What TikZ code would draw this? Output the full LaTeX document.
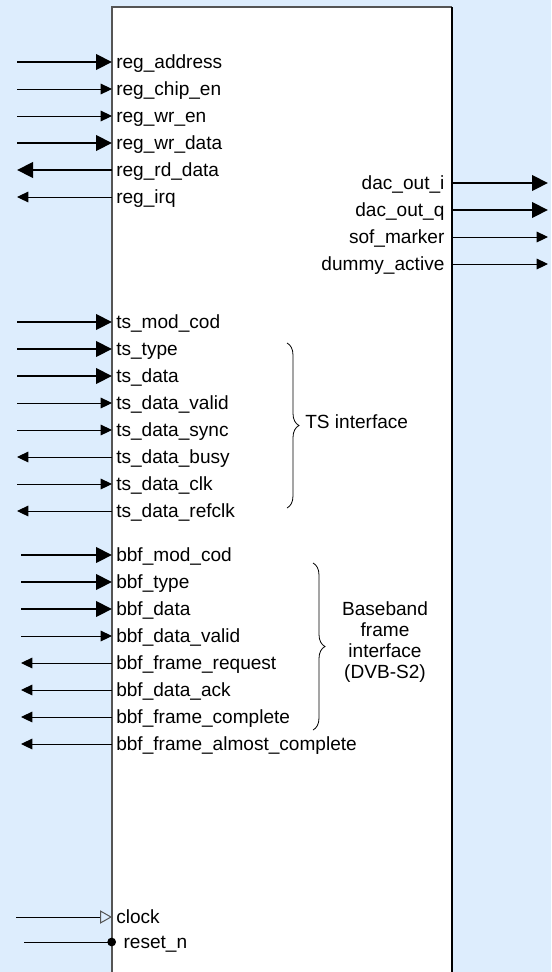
\documentclass[tikz,border=0pt]{standalone}
\usepackage{fontspec}
\setmainfont{Liberation Sans}
\usepackage{tikz}
\usetikzlibrary{arrows.meta, positioning, decorations.pathreplacing}
\definecolor{bgblue}{RGB}{221,237,253}
\definecolor{edgegray}{RGB}{85,85,85}
\newcommand{\portfont}{\fontsize{14.3}{15.75}\selectfont}
\tikzstyle{pin} = [coordinate]
\tikzstyle{bus} = [line width=2.2pt, -{Triangle[length=12pt,width=11.5pt]}]
\tikzstyle{wire} = [line width=0.75pt, -{Triangle[length=8.5pt,width=8pt]}]
\tikzstyle{clkwire} = [line width=0.75pt, -{Triangle[open,length=9pt,width=10pt,color=edgegray]}]
\tikzstyle{rstwire} = [line width=0.75pt, -{Circle[length=6.5pt]}]
\tikzstyle{curly} = [decorate, decoration={brace, amplitude=9pt}, line width=0.6pt]

\begin{document}
\begin{tikzpicture}[x=0.75pt, y=-0.75pt, node distance=20.25pt, font=\portfont,
    every label/.style={font=\portfont, inner sep=0pt, text height=11pt, text depth=1.2pt},
    label distance=3pt]
\useasboundingbox (0,0) rectangle (551,972);
\fill [bgblue] (0,0) rectangle (551,972);
% block body
\fill [white] (112,7) rectangle (452,972);
\draw [edgegray, line width=1.3pt] (112,972) |- (452,7);
\draw [black, line width=1.5pt] (452,7) -- (452,972);

% register interface
\node (regaddr) [pin, label=right:{reg\_address}] at (112,62) {};
\node (chipen) [pin, label=right:{reg\_chip\_en}, below of=regaddr] {};
\node (wren) [pin, label=right:{reg\_wr\_en}, below of=chipen] {};
\node (wrdata) [pin, label=right:{reg\_wr\_data}, below of=wren] {};
\node (rddata) [pin, label=right:{reg\_rd\_data}, below of=wrdata] {};
\node (irq) [pin, label=right:{reg\_irq}, below of=rddata] {};
\coordinate [left=71.25pt of regaddr] (regaddr-l);
\coordinate [left=71.25pt of chipen] (chipen-l);
\coordinate [left=71.25pt of wren] (wren-l);
\coordinate [left=71.25pt of wrdata] (wrdata-l);
\coordinate [left=71.25pt of rddata] (rddata-l);
\coordinate [left=71.25pt of irq] (irq-l);
\draw [bus] (regaddr-l) -- (regaddr);
\draw [wire] (chipen-l) -- (chipen);
\draw [wire] (wren-l) -- (wren);
\draw [bus] (wrdata-l) -- (wrdata);
\draw [bus] (rddata) -- (rddata-l);
\draw [wire] (irq) -- (irq-l);

% outputs
\node (daci) [pin, label={[label distance=5.5pt]left:{dac\_out\_i}}] at (452,183) {};
\node (dacq) [pin, label={[label distance=5.5pt]left:{dac\_out\_q}}, below of=daci] {};
\node (sof) [pin, label={[label distance=5.5pt]left:{sof\_marker}}, below of=dacq] {};
\node (dummy) [pin, label={[label distance=5.5pt]left:{dummy\_active}}, below of=sof] {};
\coordinate [right=72pt of daci] (daci-r);
\coordinate [right=72pt of dacq] (dacq-r);
\coordinate [right=72pt of sof] (sof-r);
\coordinate [right=72pt of dummy] (dummy-r);
\draw [bus] (daci) -- (daci-r);
\draw [bus] (dacq) -- (dacq-r);
\draw [wire] (sof) -- (sof-r);
\draw [wire] (dummy) -- (dummy-r);

% TS interface
\node (tsmod) [pin, label=right:{ts\_mod\_cod}] at (112,322) {};
\node (tstype) [pin, label=right:{ts\_type}, below of=tsmod] {};
\node (tsdata) [pin, label=right:{ts\_data}, below of=tstype] {};
\node (tsvalid) [pin, label=right:{ts\_data\_valid}, below of=tsdata] {};
\node (tssync) [pin, label=right:{ts\_data\_sync}, below of=tsvalid] {};
\node (tsbusy) [pin, label=right:{ts\_data\_busy}, below of=tssync] {};
\node (tsclk) [pin, label=right:{ts\_data\_clk}, below of=tsbusy] {};
\node (tsref) [pin, label=right:{ts\_data\_refclk}, below of=tsclk] {};
\coordinate [left=71.25pt of tsmod] (tsmod-l);
\coordinate [left=71.25pt of tstype] (tstype-l);
\coordinate [left=71.25pt of tsdata] (tsdata-l);
\coordinate [left=71.25pt of tsvalid] (tsvalid-l);
\coordinate [left=71.25pt of tssync] (tssync-l);
\coordinate [left=71.25pt of tsbusy] (tsbusy-l);
\coordinate [left=71.25pt of tsclk] (tsclk-l);
\coordinate [left=71.25pt of tsref] (tsref-l);
\draw [bus] (tsmod-l) -- (tsmod);
\draw [bus] (tstype-l) -- (tstype);
\draw [bus] (tsdata-l) -- (tsdata);
\draw [wire] (tsvalid-l) -- (tsvalid);
\draw [wire] (tssync-l) -- (tssync);
\draw [wire] (tsbusy) -- (tsbusy-l);
\draw [wire] (tsclk-l) -- (tsclk);
\draw [wire] (tsref) -- (tsref-l);
\coordinate (tstop) at (287,343);
\coordinate (tsbot) at (287,508);
\draw [curly] (tstop) -- (tsbot);
\node (tsif) [anchor=west, inner sep=0pt] at (305,422) {TS interface};

% baseband frame interface
\node (bbfmod) [pin, label=right:{bbf\_mod\_cod}] at (112,555) {};
\node (bbftype) [pin, label=right:{bbf\_type}, below of=bbfmod] {};
\node (bbfdata) [pin, label=right:{bbf\_data}, below of=bbftype] {};
\node (bbfvalid) [pin, label=right:{bbf\_data\_valid}, below of=bbfdata] {};
\node (bbfreq) [pin, label=right:{bbf\_frame\_request}, below of=bbfvalid] {};
\node (bbfack) [pin, label=right:{bbf\_data\_ack}, below of=bbfreq] {};
\node (bbfcompl) [pin, label=right:{bbf\_frame\_complete}, below of=bbfack] {};
\node (bbfalmost) [pin, label=right:{bbf\_frame\_almost\_complete}, below of=bbfcompl] {};
\coordinate [left=68.25pt of bbfmod] (bbfmod-l);
\coordinate [left=68.25pt of bbftype] (bbftype-l);
\coordinate [left=68.25pt of bbfdata] (bbfdata-l);
\coordinate [left=68.25pt of bbfvalid] (bbfvalid-l);
\coordinate [left=68.25pt of bbfreq] (bbfreq-l);
\coordinate [left=68.25pt of bbfack] (bbfack-l);
\coordinate [left=68.25pt of bbfcompl] (bbfcompl-l);
\coordinate [left=68.25pt of bbfalmost] (bbfalmost-l);
\draw [bus] (bbfmod-l) -- (bbfmod);
\draw [bus] (bbftype-l) -- (bbftype);
\draw [bus] (bbfdata-l) -- (bbfdata);
\draw [wire] (bbfvalid-l) -- (bbfvalid);
\draw [wire] (bbfreq) -- (bbfreq-l);
\draw [wire] (bbfack) -- (bbfack-l);
\draw [wire] (bbfcompl) -- (bbfcompl-l);
\draw [wire] (bbfalmost) -- (bbfalmost-l);
\coordinate (bbftop) at (313,563);
\coordinate (bbfbot) at (313,730);
\draw [curly] (bbftop) -- (bbfbot);
\node (bbfif) [align=center, inner sep=0pt] at (385,642) {Baseband\\frame\\interface\\(DVB-S2)};

% clock and reset
\node (clk) [pin, label=right:{clock}] at (112,917) {};
\node (rst) [pin, label={[label distance=8.5pt]right:{reset\_n}}, below of=clk, yshift=1.5pt] {};
\coordinate [left=72pt of clk] (clk-l);
\coordinate [left=66pt of rst] (rst-l);
\draw [clkwire] (clk-l) -- (clk);
\draw [rstwire] (rst-l) -- ([xshift=3pt]rst);
\end{tikzpicture}
\end{document}
